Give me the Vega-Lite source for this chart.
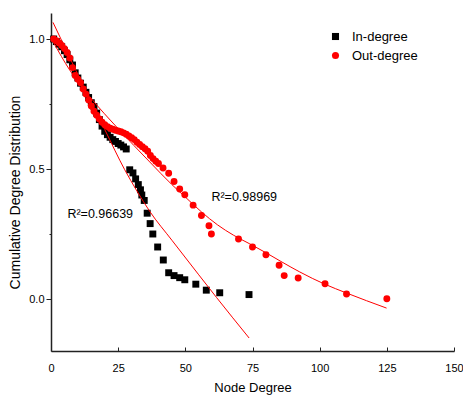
{
  "$schema": "https://vega.github.io/schema/vega-lite/v6.json",
  "width": 403,
  "height": 338,
  "autosize": "none",
  "padding": {"left": 51, "top": 13, "right": 9, "bottom": 46},
  "config": {"view": {"stroke": null}, "font": "Liberation Sans", "background": "white"},
  "datasets": {
    "points": [
      {"series": "In-degree", "degree": 1, "cdf": 1.0},
      {"series": "In-degree", "degree": 2, "cdf": 0.99},
      {"series": "In-degree", "degree": 3, "cdf": 0.98},
      {"series": "In-degree", "degree": 4, "cdf": 0.97},
      {"series": "In-degree", "degree": 5, "cdf": 0.955},
      {"series": "In-degree", "degree": 6, "cdf": 0.94},
      {"series": "In-degree", "degree": 7, "cdf": 0.92},
      {"series": "In-degree", "degree": 8, "cdf": 0.9},
      {"series": "In-degree", "degree": 9, "cdf": 0.87},
      {"series": "In-degree", "degree": 10, "cdf": 0.85},
      {"series": "In-degree", "degree": 11, "cdf": 0.83},
      {"series": "In-degree", "degree": 12, "cdf": 0.815},
      {"series": "In-degree", "degree": 13, "cdf": 0.795},
      {"series": "In-degree", "degree": 14, "cdf": 0.775},
      {"series": "In-degree", "degree": 15, "cdf": 0.755},
      {"series": "In-degree", "degree": 16, "cdf": 0.74},
      {"series": "In-degree", "degree": 17, "cdf": 0.715},
      {"series": "In-degree", "degree": 18, "cdf": 0.69},
      {"series": "In-degree", "degree": 19, "cdf": 0.665},
      {"series": "In-degree", "degree": 20, "cdf": 0.645},
      {"series": "In-degree", "degree": 21, "cdf": 0.632},
      {"series": "In-degree", "degree": 22, "cdf": 0.622},
      {"series": "In-degree", "degree": 23, "cdf": 0.613},
      {"series": "In-degree", "degree": 24, "cdf": 0.606},
      {"series": "In-degree", "degree": 25, "cdf": 0.598},
      {"series": "In-degree", "degree": 26, "cdf": 0.592},
      {"series": "In-degree", "degree": 27, "cdf": 0.585},
      {"series": "In-degree", "degree": 28, "cdf": 0.577},
      {"series": "In-degree", "degree": 29.3, "cdf": 0.497},
      {"series": "In-degree", "degree": 30.5, "cdf": 0.485},
      {"series": "In-degree", "degree": 31.5, "cdf": 0.462},
      {"series": "In-degree", "degree": 32.5, "cdf": 0.44},
      {"series": "In-degree", "degree": 33.3, "cdf": 0.42},
      {"series": "In-degree", "degree": 33.8, "cdf": 0.4},
      {"series": "In-degree", "degree": 34.7, "cdf": 0.379},
      {"series": "In-degree", "degree": 35.8, "cdf": 0.33},
      {"series": "In-degree", "degree": 36.9, "cdf": 0.29},
      {"series": "In-degree", "degree": 37.9, "cdf": 0.25},
      {"series": "In-degree", "degree": 39.7, "cdf": 0.2},
      {"series": "In-degree", "degree": 41.8, "cdf": 0.15},
      {"series": "In-degree", "degree": 43.8, "cdf": 0.101},
      {"series": "In-degree", "degree": 45.8, "cdf": 0.09},
      {"series": "In-degree", "degree": 47.9, "cdf": 0.082},
      {"series": "In-degree", "degree": 49.8, "cdf": 0.074},
      {"series": "In-degree", "degree": 53.9, "cdf": 0.057},
      {"series": "In-degree", "degree": 57.8, "cdf": 0.034},
      {"series": "In-degree", "degree": 62.8, "cdf": 0.024},
      {"series": "In-degree", "degree": 73.7, "cdf": 0.017},
      {"series": "Out-degree", "degree": 1, "cdf": 1.0},
      {"series": "Out-degree", "degree": 2, "cdf": 0.993},
      {"series": "Out-degree", "degree": 3, "cdf": 0.985},
      {"series": "Out-degree", "degree": 4, "cdf": 0.975},
      {"series": "Out-degree", "degree": 5, "cdf": 0.963},
      {"series": "Out-degree", "degree": 6, "cdf": 0.948},
      {"series": "Out-degree", "degree": 7, "cdf": 0.927},
      {"series": "Out-degree", "degree": 8, "cdf": 0.89},
      {"series": "Out-degree", "degree": 9, "cdf": 0.86},
      {"series": "Out-degree", "degree": 10, "cdf": 0.845},
      {"series": "Out-degree", "degree": 11, "cdf": 0.832},
      {"series": "Out-degree", "degree": 12, "cdf": 0.808},
      {"series": "Out-degree", "degree": 13, "cdf": 0.788},
      {"series": "Out-degree", "degree": 14, "cdf": 0.765},
      {"series": "Out-degree", "degree": 15, "cdf": 0.742},
      {"series": "Out-degree", "degree": 16, "cdf": 0.722},
      {"series": "Out-degree", "degree": 17, "cdf": 0.707},
      {"series": "Out-degree", "degree": 18, "cdf": 0.692},
      {"series": "Out-degree", "degree": 19, "cdf": 0.68},
      {"series": "Out-degree", "degree": 20, "cdf": 0.67},
      {"series": "Out-degree", "degree": 21, "cdf": 0.663},
      {"series": "Out-degree", "degree": 22, "cdf": 0.657},
      {"series": "Out-degree", "degree": 23, "cdf": 0.653},
      {"series": "Out-degree", "degree": 24, "cdf": 0.649},
      {"series": "Out-degree", "degree": 25, "cdf": 0.646},
      {"series": "Out-degree", "degree": 26, "cdf": 0.643},
      {"series": "Out-degree", "degree": 27, "cdf": 0.639},
      {"series": "Out-degree", "degree": 28, "cdf": 0.634},
      {"series": "Out-degree", "degree": 29, "cdf": 0.627},
      {"series": "Out-degree", "degree": 30, "cdf": 0.62},
      {"series": "Out-degree", "degree": 31, "cdf": 0.613},
      {"series": "Out-degree", "degree": 32, "cdf": 0.603},
      {"series": "Out-degree", "degree": 33, "cdf": 0.594},
      {"series": "Out-degree", "degree": 34, "cdf": 0.586},
      {"series": "Out-degree", "degree": 35, "cdf": 0.578},
      {"series": "Out-degree", "degree": 36, "cdf": 0.568},
      {"series": "Out-degree", "degree": 37, "cdf": 0.552},
      {"series": "Out-degree", "degree": 38, "cdf": 0.54},
      {"series": "Out-degree", "degree": 39, "cdf": 0.53},
      {"series": "Out-degree", "degree": 40, "cdf": 0.521},
      {"series": "Out-degree", "degree": 41.7, "cdf": 0.504},
      {"series": "Out-degree", "degree": 43.8, "cdf": 0.484},
      {"series": "Out-degree", "degree": 45.8, "cdf": 0.452},
      {"series": "Out-degree", "degree": 47.9, "cdf": 0.423},
      {"series": "Out-degree", "degree": 49.8, "cdf": 0.401},
      {"series": "Out-degree", "degree": 52.9, "cdf": 0.361},
      {"series": "Out-degree", "degree": 56, "cdf": 0.321},
      {"series": "Out-degree", "degree": 58.8, "cdf": 0.282},
      {"series": "Out-degree", "degree": 59.7, "cdf": 0.25},
      {"series": "Out-degree", "degree": 69.8, "cdf": 0.231},
      {"series": "Out-degree", "degree": 75, "cdf": 0.2},
      {"series": "Out-degree", "degree": 80, "cdf": 0.17},
      {"series": "Out-degree", "degree": 84.9, "cdf": 0.13},
      {"series": "Out-degree", "degree": 86.8, "cdf": 0.09},
      {"series": "Out-degree", "degree": 92, "cdf": 0.081},
      {"series": "Out-degree", "degree": 102, "cdf": 0.059},
      {"series": "Out-degree", "degree": 110, "cdf": 0.019},
      {"series": "Out-degree", "degree": 125, "cdf": 0.001}
    ],
    "fits": [
      {"fit": "In-degree fit", "degree": 0.74, "cdf": 1.064},
      {"fit": "In-degree fit", "degree": 6, "cdf": 0.95},
      {"fit": "In-degree fit", "degree": 12.55, "cdf": 0.808},
      {"fit": "In-degree fit", "degree": 20, "cdf": 0.652},
      {"fit": "In-degree fit", "degree": 27.45, "cdf": 0.497},
      {"fit": "In-degree fit", "degree": 32, "cdf": 0.415},
      {"fit": "In-degree fit", "degree": 36.76, "cdf": 0.337},
      {"fit": "In-degree fit", "degree": 45, "cdf": 0.226},
      {"fit": "In-degree fit", "degree": 55, "cdf": 0.093},
      {"fit": "In-degree fit", "degree": 61.6, "cdf": 0.006},
      {"fit": "In-degree fit", "degree": 73.74, "cdf": -0.15},
      {"fit": "Out-degree fit", "degree": 0.75, "cdf": 0.99},
      {"fit": "Out-degree fit", "degree": 7, "cdf": 0.88},
      {"fit": "Out-degree fit", "degree": 14.45, "cdf": 0.778},
      {"fit": "Out-degree fit", "degree": 25, "cdf": 0.655},
      {"fit": "Out-degree fit", "degree": 36.76, "cdf": 0.527},
      {"fit": "Out-degree fit", "degree": 45, "cdf": 0.44},
      {"fit": "Out-degree fit", "degree": 50, "cdf": 0.392},
      {"fit": "Out-degree fit", "degree": 56, "cdf": 0.335},
      {"fit": "Out-degree fit", "degree": 62, "cdf": 0.285},
      {"fit": "Out-degree fit", "degree": 68, "cdf": 0.245},
      {"fit": "Out-degree fit", "degree": 74, "cdf": 0.212},
      {"fit": "Out-degree fit", "degree": 80, "cdf": 0.178},
      {"fit": "Out-degree fit", "degree": 86, "cdf": 0.142},
      {"fit": "Out-degree fit", "degree": 92.6, "cdf": 0.104},
      {"fit": "Out-degree fit", "degree": 101.9, "cdf": 0.057},
      {"fit": "Out-degree fit", "degree": 110, "cdf": 0.023},
      {"fit": "Out-degree fit", "degree": 124.9, "cdf": -0.035}
    ],
    "notes": [
      {"label": "R²=0.96639", "degree": 6.1, "cdf": 0.313},
      {"label": "R²=0.98969", "degree": 59.7, "cdf": 0.376}
    ]
  },
  "layer": [
    {
      "data": {"name": "points"},
      "mark": {"type": "point", "filled": true, "opacity": 1, "size": 48, "strokeWidth": 0},
      "encoding": {
        "x": {
          "field": "degree", "type": "quantitative",
          "scale": {"domain": [0, 150], "nice": false, "zero": false},
          "axis": {
            "title": "Node Degree",
            "values": [0, 12.5, 25, 37.5, 50, 62.5, 75, 87.5, 100, 112.5, 125, 137.5, 150],
            "labelExpr": "datum.value % 25 === 0 ? format(datum.value, 'd') : ''",
            "grid": false, "tickSize": -4, "labelPadding": 15,
            "labelFontSize": 11, "labelColor": "#000", "labelFlush": false, "labelOverlap": false,
            "titleFontSize": 13, "titleFontWeight": "normal", "titleColor": "#000", "titlePadding": 8,
            "domainColor": "#222", "domainWidth": 1.5, "tickColor": "#222", "tickWidth": 1
          }
        },
        "y": {
          "field": "cdf", "type": "quantitative",
          "scale": {"domain": [-0.2, 1.1], "nice": false, "zero": false},
          "axis": {
            "title": "Cumulative Degree Distribution",
            "values": [0, 0.25, 0.5, 0.75, 1],
            "labelExpr": "datum.value % 0.5 === 0 ? format(datum.value, '.1f') : ''",
            "grid": false,
            "tickSize": {"condition": {"test": "datum.value % 0.5 === 0", "value": 5}, "value": 2},
            "labelPadding": 2,
            "labelFontSize": 11, "labelColor": "#000", "labelFlush": false, "labelOverlap": false,
            "titleFontSize": 14, "titleFontWeight": "normal", "titleColor": "#000", "titlePadding": 6,
            "titleY": 179,
            "domainColor": "#222", "domainWidth": 1.5, "tickColor": "#222", "tickWidth": 1
          }
        },
        "color": {
          "field": "series", "type": "nominal",
          "scale": {"domain": ["In-degree", "Out-degree"], "range": ["#000000", "#ff0000"]},
          "legend": {
            "title": null, "orient": "none", "legendX": 278, "legendY": 17,
            "labelFontSize": 13, "labelColor": "#000", "symbolSize": 50, "labelOffset": 10,
            "rowPadding": 5, "padding": 0, "symbolStrokeWidth": 0
          }
        },
        "shape": {
          "field": "series", "type": "nominal",
          "scale": {"domain": ["In-degree", "Out-degree"], "range": ["square", "circle"]}
        }
      }
    },
    {
      "data": {"name": "fits"},
      "mark": {"type": "line", "color": "#ff0000", "strokeWidth": 1, "interpolate": "monotone"},
      "encoding": {
        "x": {"field": "degree", "type": "quantitative"},
        "y": {"field": "cdf", "type": "quantitative"},
        "detail": {"field": "fit", "type": "nominal"}
      }
    },
    {
      "data": {"name": "notes"},
      "mark": {"type": "text", "align": "left", "baseline": "alphabetic", "fontSize": 12.5, "color": "#000"},
      "encoding": {
        "x": {"field": "degree", "type": "quantitative"},
        "y": {"field": "cdf", "type": "quantitative"},
        "text": {"field": "label"}
      }
    }
  ]
}
